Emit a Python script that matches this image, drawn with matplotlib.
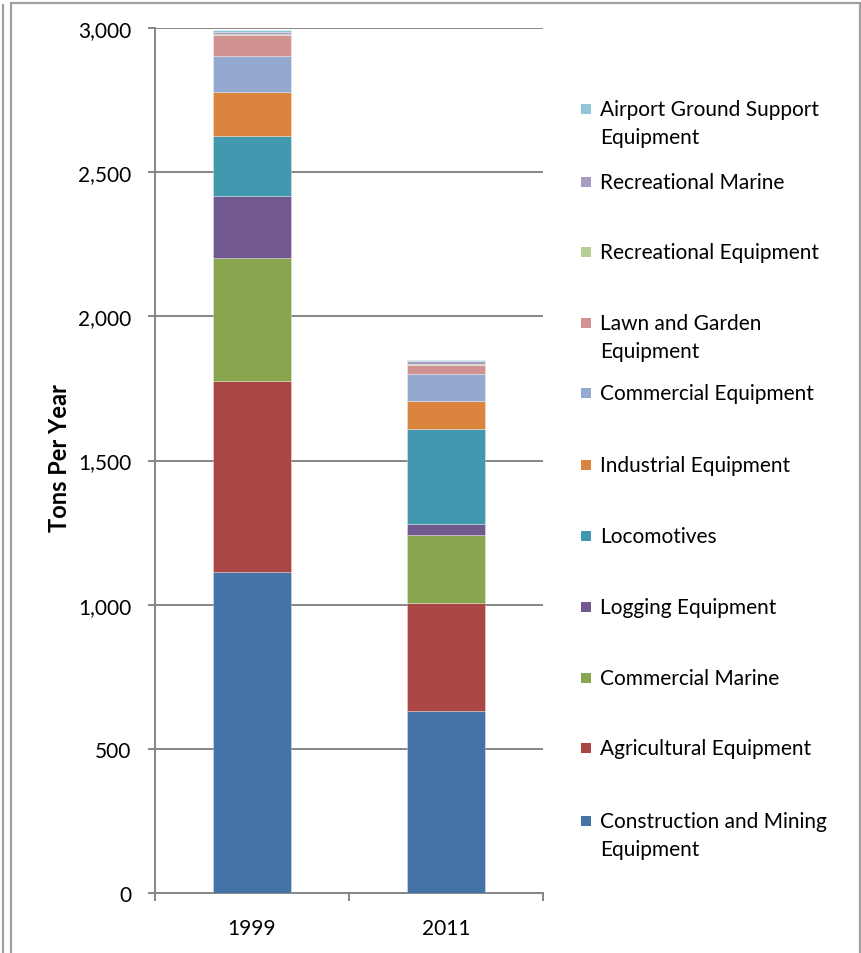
import matplotlib
matplotlib.use("Agg")
import matplotlib.pyplot as plt
from matplotlib.patches import Rectangle
import numpy as np

# Nonroad emissions by source category, tons per year
years = ["1999", "2011"]
categories = [
    "Construction and Mining\nEquipment",
    "Agricultural Equipment",
    "Commercial Marine",
    "Logging Equipment",
    "Locomotives",
    "Industrial Equipment",
    "Commercial Equipment",
    "Lawn and Garden\nEquipment",
    "Recreational Equipment",
    "Recreational Marine",
    "Airport Ground Support\nEquipment",
]
values_1999 = [1113, 663, 426, 215, 208, 153, 125, 72, 5, 5, 8]
values_2011 = [631, 375, 237, 37, 329, 98, 93, 31, 3, 10, 5]
colors = [
    "#4572A7", "#AA4643", "#89A54E", "#71588F", "#4198AF", "#DB843D",
    "#93A9CF", "#D19392", "#B9CD96", "#A99BBD", "#92C5D8",
]
y_ticks = [0, 500, 1000, 1500, 2000, 2500, 3000]

FONT = "Lato"
FS = 15
W, H = 862, 954
fig = plt.figure(figsize=(W / 100, H / 100), dpi=100)

def fx(px):
    return px / W

def fy(py):
    return 1 - py / H

# outer frames
grey = "#A0A0A0"
fig.add_artist(plt.Line2D([fx(3), fx(3)], [fy(6), 0], color=grey, lw=1.6))
fig.add_artist(Rectangle((fx(11.5), fy(960)), fx(860) - fx(11.5), fy(3.5) - fy(960),
                         fill=False, edgecolor=grey, lw=1.6, transform=fig.transFigure))

ax = fig.add_axes([fx(155), fy(894), fx(543) - fx(155), fy(29) - fy(894)])

data = np.array([values_1999, values_2011])
x = np.arange(len(years))
bottom = np.zeros(len(years))
for i, col in enumerate(colors):
    ax.bar(x, data[:, i], bottom=bottom, width=0.40, color=col,
           edgecolor=(1, 1, 1, 0.35), linewidth=0.6, zorder=3)
    bottom += data[:, i]

axis_col = "#868686"
ax.set_xlim(-0.5, 1.5)
ax.set_ylim(0, 3000)
ax.set_yticks(y_ticks)
ax.set_yticklabels([f"{v:,}" for v in y_ticks], fontsize=FS, family=FONT)
ax.yaxis.grid(True, color=axis_col, lw=1.4, zorder=0)
ax.set_axisbelow(True)

ax.set_xticks([-0.5, 0.5, 1.5])
ax.set_xticklabels([])
ax.set_xticks(x, minor=True)
ax.set_xticklabels(years, minor=True, fontsize=FS, family=FONT)
ax.tick_params(axis="x", which="major", direction="out", length=6, width=1.4, color=axis_col)
ax.tick_params(axis="x", which="minor", length=0, pad=18)
ax.tick_params(axis="y", direction="out", length=5, width=1.4, color=axis_col, pad=12)

for s in ["top", "right"]:
    ax.spines[s].set_visible(False)
for s in ["left", "bottom"]:
    ax.spines[s].set_color(axis_col)
    ax.spines[s].set_linewidth(1.4)

fig.text(fx(60), fy(458), "Tons Per Year", rotation=90, ha="center", va="center",
         fontsize=17, fontweight="bold", family=FONT)

# legend drawn top-down, last series first
legend_y = [110, 183, 253, 324, 394, 466, 537, 608, 679, 749, 822]
for yy, label, col in zip(legend_y, categories[::-1], colors[::-1]):
    fig.add_artist(Rectangle((fx(581), fy(yy + 5)), fx(10), 10 / H, facecolor=col,
                             edgecolor="none", transform=fig.transFigure))
    for k, line in enumerate(label.split("\n")):
        fig.text(fx(600), fy(yy + 28 * k), line, ha="left", va="center",
                 fontsize=FS, family=FONT)

fig.savefig("out.png", dpi=100)
